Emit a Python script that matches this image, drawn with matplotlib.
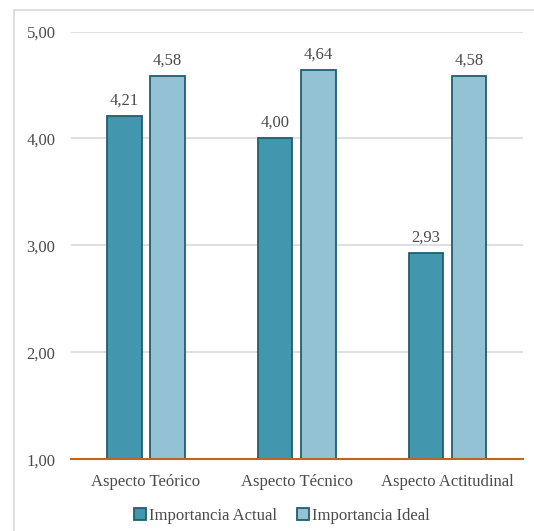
import matplotlib.pyplot as plt
import matplotlib.patches as mpatches
import numpy as np

categories = ["Aspecto Teórico", "Aspecto Técnico", "Aspecto Actitudinal"]
series_names = ["Importancia Actual", "Importancia Ideal"]
actual = [4.21, 4.00, 2.93]
ideal = [4.58, 4.64, 4.58]
yticks = [1.00, 2.00, 3.00, 4.00, 5.00]

plt.rcParams['font.family'] = ['Liberation Serif', 'DejaVu Serif']

W, H = 534, 531
fig = plt.figure(figsize=(W / 100, H / 100), dpi=100, facecolor='white')

# outer chart frame, kept behind the axes
frame = mpatches.Rectangle((14 / W, -0.01), 1.0, 1 - 10 / H + 0.01,
                           transform=fig.transFigure, facecolor='white',
                           edgecolor='#d9d9d9', linewidth=1.2, zorder=-10)
fig.patches.append(frame)

left, right = 70.5 / W, 523 / W
top, bottom = 1 - 31.5 / H, 1 - 459.4 / H
ax = fig.add_axes([left, bottom, right - left, top - bottom])
ax.set_facecolor('none')

x = np.arange(len(categories))
bw = 0.229
off = 0.143
edge = '#1f5f70'
c_act = '#4297ae'
c_ide = '#93c2d4'

b1 = ax.bar(x - off, np.array(actual) - 1, bw, bottom=1, color=c_act,
            edgecolor=edge, linewidth=1.3, zorder=3, label=series_names[0])
b2 = ax.bar(x + off, np.array(ideal) - 1, bw, bottom=1, color=c_ide,
            edgecolor=edge, linewidth=1.3, zorder=3, label=series_names[1])

txt = '#4a4a4a'
fs = 12
for xi, v in zip(x - off, actual):
    ax.text(xi, v + 0.07, f"{v:.2f}".replace('.', ','), ha='center', va='bottom',
            fontsize=fs, color=txt)
for xi, v in zip(x + off, ideal):
    ax.text(xi, v + 0.07, f"{v:.2f}".replace('.', ','), ha='center', va='bottom',
            fontsize=fs, color=txt)

ax.set_xlim(-0.5, len(categories) - 0.5)
ax.set_ylim(1, 5)
ax.set_yticks(yticks)
ax.set_yticklabels([f"{t:.2f}".replace('.', ',') for t in yticks])
ax.set_xticks(x)
ax.set_xticklabels(categories)
ax.tick_params(axis='both', length=0, labelsize=fs, labelcolor=txt)
ax.tick_params(axis='y', pad=10.8)
ax.tick_params(axis='x', pad=10.5)
ax.yaxis.grid(True, color='#d9d9d9', linewidth=1.2, zorder=0)
for s in ['top', 'right', 'left']:
    ax.spines[s].set_visible(False)
ax.spines['bottom'].set_color('#c0651f')
ax.spines['bottom'].set_linewidth(1.5)
ax.spines['bottom'].set_zorder(4)

leg = fig.legend(handles=[b1, b2], labels=series_names, loc='center',
                 bbox_to_anchor=(281.5 / W, 1 - 516 / H), ncol=2, frameon=False,
                 fontsize=fs, handlelength=0.75, handleheight=0.75,
                 handletextpad=0.15, columnspacing=1.2)
for t in leg.get_texts():
    t.set_color(txt)

fig.savefig('out.png', dpi=100, facecolor='white')
